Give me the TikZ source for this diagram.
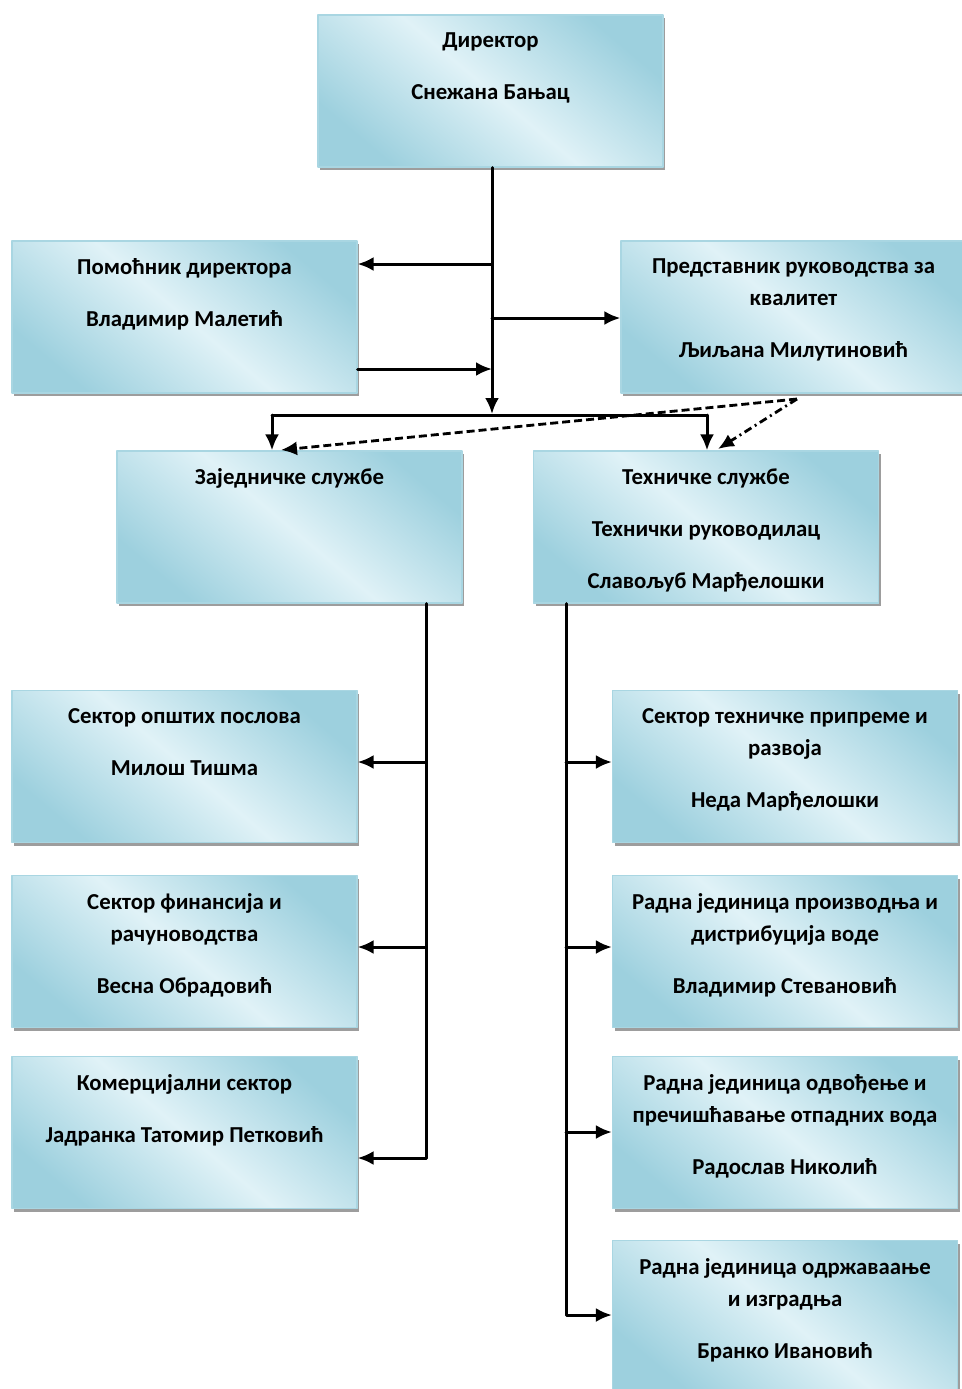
\documentclass[tikz,border=0pt]{standalone}
\usepackage{fontspec}
\setmainfont{Carlito}
\usetikzlibrary{arrows.meta,shadows}
\definecolor{boxdark}{HTML}{9DD0DE}
\definecolor{boxlight}{HTML}{E0F2F7}
\definecolor{boxedge}{HTML}{A9D6E2}
\begin{document}
\begin{tikzpicture}[
	x=.5pt,
	y=-.5pt,
	line join=round,
	line cap=round,
	>={Latex[length=8pt,width=7pt]},
	orgbox/.style={minimum width=172.5pt, minimum height=76pt, inner sep=0pt,
		draw=boxedge, line width=.6pt,
		top color=boxdark, bottom color=boxdark, middle color=boxlight, shading angle=-40,
		drop shadow={shadow xshift=1pt, shadow yshift=-1.5pt, opacity=.55, fill=black!70}},
	orgtext/.style={anchor=north, inner sep=0pt, align=center,
		font=\bfseries\fontsize{11.4}{16}\selectfont},
	link/.style={line width=1.5pt},
	]
\useasboundingbox (0,0) rectangle (962,1389);
% boxes
\node[orgbox] (dir) at (490.5,91) {};
\node[orgbox] (pom) at (184.5,317) {};
\node[orgbox] (pred) at (793.5,317) {};
\node[orgbox] (zaj) at (289.5,527) {};
\node[orgbox] (teh) at (706,527) {};
\node[orgbox] (s1) at (184.5,766.5) {};
\node[orgbox] (s2) at (184.5,951.5) {};
\node[orgbox] (kom) at (184.5,1132.5) {};
\node[orgbox] (r1) at (785,766.5) {};
\node[orgbox] (r2) at (785,951.5) {};
\node[orgbox] (r3) at (785,1132.5) {};
\node[orgbox] (r4) at (785,1316.5) {};
% texts
\node[orgtext] (dirt) at ([yshift=-9pt]dir.north) {Директор\\[10pt]Снежана Бањац};
\node[orgtext] (pomt) at ([yshift=-9pt]pom.north) {Помоћник директора\\[10pt]Владимир Малетић};
\node[orgtext] (predt) at ([yshift=-9pt]pred.north) {Представник руководства за\\квалитет\\[10pt]Љиљана Милутиновић};
\node[orgtext] (zajt) at ([yshift=-9pt]zaj.north) {Заједничке службе};
\node[orgtext] (teht) at ([yshift=-9pt]teh.north) {Техничке службе\\[10pt]Технички руководилац\\[10pt]Славољуб Марђелошки};
\node[orgtext] (s1t) at ([yshift=-9pt]s1.north) {Сектор општих послова\\[10pt]Милош Тишма};
\node[orgtext] (s2t) at ([yshift=-9pt]s2.north) {Сектор финансија и\\рачуноводства\\[10pt]Весна Обрадовић};
\node[orgtext] (komt) at ([yshift=-9pt]kom.north) {Комерцијални сектор\\[10pt]Јадранка Татомир Петковић};
\node[orgtext] (r1t) at ([yshift=-9pt]r1.north) {Сектор техничке припреме и\\развоја\\[10pt]Неда Марђелошки};
\node[orgtext] (r2t) at ([yshift=-9pt]r2.north) {Радна јединица производња и\\дистрибуција воде\\[10pt]Владимир Стевановић};
\node[orgtext] (r3t) at ([yshift=-9pt]r3.north) {Радна јединица одвођење и\\пречишћавање отпадних вода\\[10pt]Радослав Николић};
\node[orgtext] (r4t) at ([yshift=-9pt]r4.north) {Радна јединица одржаваање\\и изградња\\[10pt]Бранко Ивановић};
% top part
\coordinate (t1) at (492,264);
\coordinate (t2) at (492,318);
\coordinate (t3) at (492,369);
\coordinate (bus) at (492,414);
\coordinate (bl) at (272,415);
\coordinate (br) at (707,415);
\draw[link,->] (dir.south -| bus) -- (bus);
\draw[link,->] (t1) -- (t1 -| pom.east);
\draw[link,->] (t2) -- (t2 -| pred.west);
\draw[link,->] (t3 -| pom.east) -- (t3);
\draw[link] (bl) -- (br);
\draw[link,->] (bl) -- (bl |- zaj.north);
\draw[link,->] (br) -- (br |- teh.north);
\coordinate (q) at (797,399);
\coordinate (qz) at (281,450);
\coordinate (qt) at (718,449);
\draw[line width=1.4pt, line cap=butt, dash pattern=on 4pt off 2pt, ->] (q) -- (qz);
\draw[line width=1.4pt, line cap=butt, dash pattern=on 4pt off 2pt on 1pt off 2pt, ->] (q) -- (qt);
% left branch
\coordinate (lbot) at (426,1158);
\draw[link,->] (zaj.south -| lbot) -- (lbot) -- (lbot -| kom.east);
\foreach \y/\b in {762/s1, 947/s2}
	{
	\coordinate (\b-j) at (426,\y);
	\draw[link,->] (\b-j) -- (\b-j -| \b.east);
	}
% right branch
\coordinate (rbot) at (566,1315);
\draw[link,->] (teh.south -| rbot) -- (rbot) -- (rbot -| r4.west);
\foreach \y/\b in {762/r1, 947/r2, 1132/r3}
	{
	\coordinate (\b-j) at (566,\y);
	\draw[link,->] (\b-j) -- (\b-j -| \b.west);
	}
\end{tikzpicture}
\end{document}
